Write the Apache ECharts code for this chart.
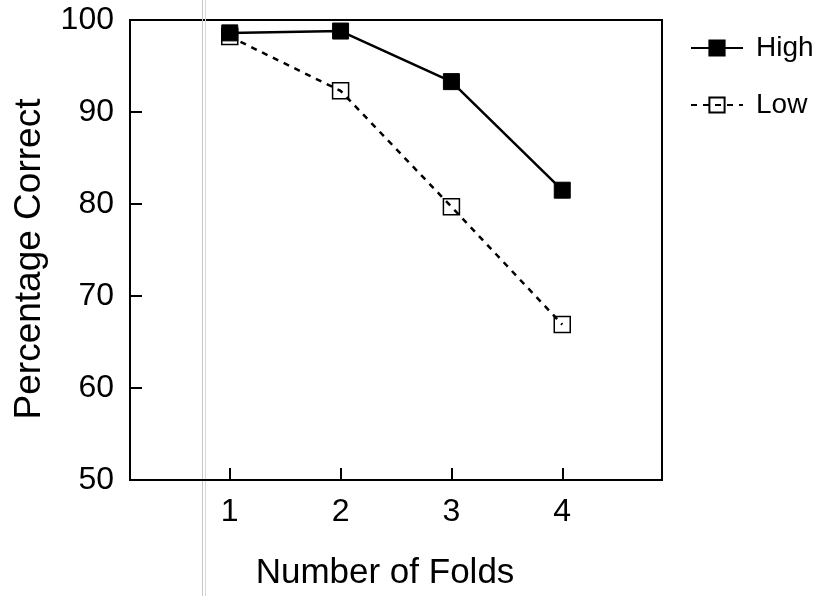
<!DOCTYPE html>
<html><head><meta charset="utf-8">
<script src="https://cdn.jsdelivr.net/npm/echarts@6/dist/echarts.min.js"></script>
<style>html,body{margin:0;padding:0;background:#fff}#c{width:816px;height:596px}</style>
</head><body><div id="c"></div>
<script>
const folds = [1, 2, 3, 4];
const highValues = [98.6, 98.8, 93.3, 81.5];
const lowValues = [98.2, 92.3, 79.7, 66.9];
const seriesNames = ['High', 'Low'];
const xTitle = 'Number of Folds';
const yTitle = 'Percentage Correct';

const FONT = 'Liberation Sans';
const chart = echarts.init(document.getElementById('c'), null, {renderer: 'canvas'});
chart.setOption({
  animation: false,
  backgroundColor: '#fff',
  graphic: [
    {type: 'line', shape: {x1: 202.5, y1: 0, x2: 202.5, y2: 596}, style: {stroke: '#c8c8c8', lineWidth: 1}, z: 0},
    {type: 'line', shape: {x1: 205.5, y1: 0, x2: 205.5, y2: 596}, style: {stroke: '#d8d8d8', lineWidth: 1}, z: 0}
  ],
  grid: {left: 130, right: 154, top: 20, bottom: 114, show: true, borderColor: '#000', borderWidth: 2, backgroundColor: 'transparent'},
  legend: {
    data: seriesNames, orient: 'vertical', left: 685, top: 29,
    itemWidth: 52, itemHeight: 19, itemGap: 29,
    textStyle: {fontFamily: FONT, fontSize: 28, color: '#000', padding: [0, 0, 0, 8]}
  },
  xAxis: {
    type: 'value', min: 0.1, max: 4.9,
    name: xTitle, nameLocation: 'middle', nameGap: 76,
    nameTextStyle: {fontFamily: FONT, fontSize: 35, color: '#000', padding: [0, 22, 0, 0]},
    axisLine: {lineStyle: {color: '#000', width: 2}},
    axisTick: {inside: true, length: 12, customValues: folds, lineStyle: {color: '#000', width: 2}},
    axisLabel: {customValues: folds, margin: 16, fontFamily: FONT, fontSize: 32, color: '#000', formatter: v => String(v)},
    splitLine: {show: false}
  },
  yAxis: {
    type: 'value', min: 50, max: 100, interval: 10,
    name: yTitle, nameLocation: 'middle', nameGap: 82,
    nameTextStyle: {fontFamily: FONT, fontSize: 37, color: '#000', padding: [0, 18, 0, 0]},
    axisLine: {lineStyle: {color: '#000', width: 2}},
    axisTick: {inside: true, length: 12, lineStyle: {color: '#000', width: 2}},
    axisLabel: {margin: 16, fontFamily: FONT, fontSize: 32, color: '#000'},
    splitLine: {show: false}
  },
  series: [
    {
      name: 'Low', type: 'line', z: 2,
      data: folds.map((f, i) => [f, lowValues[i]]),
      symbol: 'rect', symbolSize: 16,
      lineStyle: {color: '#000', width: 2.5, type: [6, 6]},
      itemStyle: {color: 'rgba(255,255,255,0)', borderColor: '#000', borderWidth: 1.5}
    },
    {
      name: 'High', type: 'line', z: 3,
      data: folds.map((f, i) => [f, highValues[i]]),
      symbol: 'rect', symbolSize: 16,
      lineStyle: {color: '#000', width: 2.5},
      itemStyle: {color: '#000', borderColor: '#000', borderWidth: 1}
    }
  ]
});
</script>
</body></html>
